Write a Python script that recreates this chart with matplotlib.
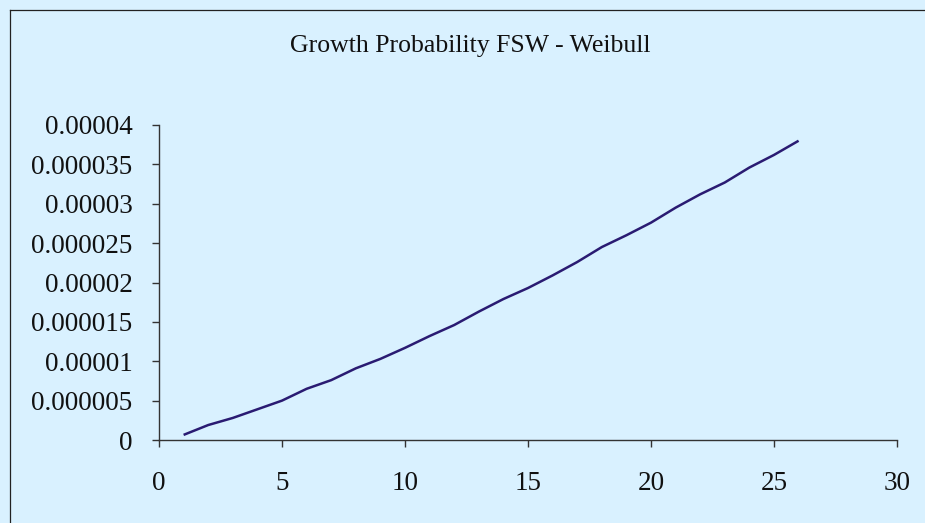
import matplotlib.pyplot as plt
from matplotlib.lines import Line2D

# data
periods = list(range(1, 27))
growth_prob = [0.65e-6, 1.9e-6, 2.8e-6, 3.9e-6, 5.0e-6, 6.5e-6, 7.6e-6, 9.1e-6,
               10.3e-6, 11.7e-6, 13.2e-6, 14.6e-6, 16.3e-6, 17.9e-6, 19.3e-6,
               20.9e-6, 22.6e-6, 24.5e-6, 26.0e-6, 27.6e-6, 29.5e-6, 31.2e-6,
               32.7e-6, 34.6e-6, 36.2e-6, 38.0e-6]

x_ticks = [0, 5, 10, 15, 20, 25, 30]
y_ticks = [0, 0.000005, 0.00001, 0.000015, 0.00002, 0.000025, 0.00003, 0.000035, 0.00004]
y_tick_labels = ['0', '0.000005', '0.00001', '0.000015', '0.00002',
                 '0.000025', '0.00003', '0.000035', '0.00004']

title = "Growth Probability FSW - Weibull"

bg = '#D9F1FF'
plt.rcParams['font.family'] = ['Liberation Serif', 'DejaVu Serif']

fig = plt.figure(figsize=(9.25, 5.23), dpi=100, facecolor=bg)
ax = fig.add_axes([159 / 925, 1 - 440 / 523, (897 - 159) / 925, (440 - 125) / 523])
ax.set_facecolor(bg)

ax.plot(periods, growth_prob, color='#2A1B72', lw=1.8, solid_capstyle='butt')

ax.set_xlim(0, 30)
ax.set_ylim(0, 0.00004)
ax.set_xticks(x_ticks)
ax.set_xticklabels([str(t) for t in x_ticks])
ax.set_yticks(y_ticks)
ax.set_yticklabels(y_tick_labels)

for side in ['top', 'right']:
    ax.spines[side].set_visible(False)
for side in ['left', 'bottom']:
    ax.spines[side].set_color('#333333')
    ax.spines[side].set_linewidth(1.0)

ax.tick_params(axis='x', direction='out', length=5, width=1, color='#333333',
               labelsize=19.5, pad=17, labelcolor='#111111')
ax.tick_params(axis='y', direction='out', length=5, width=1, color='#333333',
               labelsize=19.5, pad=14, labelcolor='#111111')

fig.text(470 / 925, 1 - 51.7 / 523, title, ha='center', va='baseline',
         fontsize=18.5, color='#111111')

# chart frame (only top and left edges are visible in the crop)
fig.add_artist(Line2D([9.5 / 925, 9.5 / 925], [0, 1 - 9.5 / 523],
                      transform=fig.transFigure, color='#222222', lw=0.9))
fig.add_artist(Line2D([9.5 / 925, 1], [1 - 9.5 / 523, 1 - 9.5 / 523],
                      transform=fig.transFigure, color='#222222', lw=0.9))

fig.savefig('out.png', dpi=100, facecolor=bg)
